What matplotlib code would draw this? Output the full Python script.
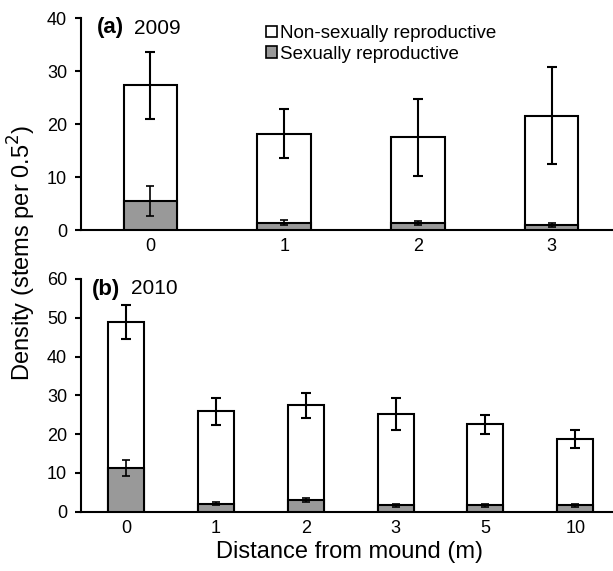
import numpy as np
import matplotlib.pyplot as plt
from matplotlib.patches import Patch

plt.rcParams['font.family'] = ['Liberation Sans', 'DejaVu Sans']

# panel (a) 2009
dist_a = ['0', '1', '2', '3']
total_a = [27.4, 18.2, 17.5, 21.5]
total_a_lo = [20.9, 13.6, 10.2, 12.5]
total_a_hi = [33.6, 22.9, 24.8, 30.8]
sex_a = [5.5, 1.4, 1.4, 1.0]
sex_a_err = [2.9, 0.5, 0.4, 0.4]

# panel (b) 2010
dist_b = ['0', '1', '2', '3', '5', '10']
total_b = [48.8, 25.9, 27.4, 25.2, 22.5, 18.7]
total_b_lo = [44.5, 22.4, 24.1, 21.1, 20.0, 16.3]
total_b_hi = [53.3, 29.4, 30.7, 29.4, 24.9, 21.1]
sex_b = [11.3, 2.0, 3.1, 1.7, 1.7, 1.7]
sex_b_err = [2.1, 0.4, 0.5, 0.4, 0.4, 0.4]

grey = '#999999'

def panel(ax, labels, tot, lo, hi, sex, sexerr, ymax, xl, xr):
    x = np.arange(len(labels))
    ax.bar(x, tot, width=0.4, color='white', edgecolor='black', lw=1.5, zorder=2)
    ax.bar(x, sex, width=0.4, color=grey, edgecolor='black', lw=1.5, zorder=3)
    tot = np.array(tot)
    yerr = [tot - np.array(lo), np.array(hi) - tot]
    ax.errorbar(x, tot, yerr=yerr, fmt='none', ecolor='black', elinewidth=1.5,
                capsize=3.5, capthick=1.5, zorder=4)
    ax.errorbar(x, sex, yerr=sexerr, fmt='none', ecolor='black', elinewidth=1.2,
                capsize=3, capthick=1.2, zorder=4)
    ax.set_xticks(x)
    ax.set_xticklabels(labels)
    ax.set_xlim(xl, xr)
    ax.set_ylim(0, ymax)
    ax.set_yticks(np.arange(0, ymax + 1, 10))
    for s in ['top', 'right']:
        ax.spines[s].set_visible(False)
    for s in ['left', 'bottom']:
        ax.spines[s].set_linewidth(1.5)
    ax.tick_params(axis='x', length=0, labelsize=13, pad=6)
    ax.tick_params(axis='y', length=4, width=1.5, labelsize=13, pad=6)

fig = plt.figure(figsize=(6.13, 5.71), dpi=100)
ax1 = fig.add_axes([0.1321, 0.597, 0.868, 0.371])
ax2 = fig.add_axes([0.1321, 0.1039, 0.868, 0.4075])

panel(ax1, dist_a, total_a, total_a_lo, total_a_hi, sex_a, sex_a_err, 40, -0.52, 3.46)
panel(ax2, dist_b, total_b, total_b_lo, total_b_hi, sex_b, sex_b_err, 60, -0.5, 5.42)

# panel letters (placed in figure pixels)
fig.text(97 / 613, 1 - 28 / 571, '(a)', fontsize=16, fontweight='bold', va='center')
fig.text(134 / 613, 1 - 28 / 571, '2009', fontsize=15, va='center')
fig.text(92 / 613, 1 - 289 / 571, '(b)', fontsize=16, fontweight='bold', va='center')
fig.text(131 / 613, 1 - 289 / 571, '2010', fontsize=15, va='center')

handles = [Patch(facecolor='white', edgecolor='black', lw=1.2, label='Non-sexually reproductive'),
           Patch(facecolor=grey, edgecolor='black', lw=1.2, label='Sexually reproductive')]
fig.legend(handles=handles, loc='upper left', bbox_to_anchor=(266 / 613, 1 - 25 / 571),
           frameon=False, fontsize=13.5, handlelength=0.58, handleheight=0.58,
           handletextpad=0.15, labelspacing=0.2, borderpad=0.0, borderaxespad=0.0)

fig.text(22 / 613, 1 - 253 / 571, 'Density (stems per 0.5$^2$)', rotation=90,
         va='center', ha='center', fontsize=17)
fig.text(349 / 613, 1 - 552 / 571, 'Distance from mound (m)', va='center', ha='center', fontsize=17)

plt.savefig('out.png', dpi=100)
